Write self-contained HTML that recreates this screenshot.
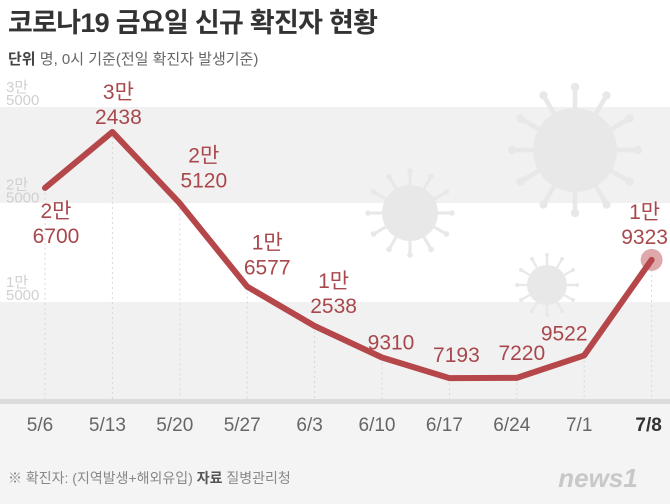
<!DOCTYPE html>
<html><head><meta charset="utf-8">
<style>
body{margin:0;width:670px;height:504px;overflow:hidden;background:#f4f4f4;font-family:"Liberation Sans","Noto Sans CJK KR",sans-serif}
.n{font-family:"Liberation Sans Narrow","Liberation Sans","Noto Sans CJK KR",sans-serif}
</style></head>
<body>
<svg id="chart" width="670" height="504" xmlns="http://www.w3.org/2000/svg" style="display:block">
<rect x="0" y="0" width="670" height="400" fill="#ffffff"/>
<rect x="0" y="107" width="670" height="96" fill="#f1f1f1"/>
<rect x="0" y="302" width="670" height="98" fill="#f1f1f1"/>
<g id="viruses" fill="#e8e8e8" stroke="#e8e8e8"></g>
<text x="8" y="32" font-size="27" font-weight="bold" fill="#333" textLength="370">코로나19 금요일 신규 확진자 현황</text>
<text x="8" y="64" font-size="15" fill="#666"><tspan font-weight="bold" fill="#444">단위</tspan> 명, 0시 기준(전일 확진자 발생기준)</text>
<g id="yticks" class="n" font-size="15" fill="#d0d0d0"></g>
<g id="grid"></g>
<rect x="0" y="399" width="670" height="5" fill="#dcdcdc"/>
<g id="plot"></g>
<g id="xlabels" class="n" font-size="19" fill="#666" text-anchor="middle"></g>
<text x="8" y="483" font-size="14" fill="#888">※ 확진자: (지역발생+해외유입)  <tspan font-weight="bold" fill="#555">자료</tspan> 질병관리청</text>
<text x="598" y="487" font-size="26" font-weight="bold" font-style="italic" fill="#c8c8c8" text-anchor="middle">news1</text>
</svg>
<script>
const categories=["5/6","5/13","5/20","5/27","6/3","6/10","6/17","6/24","7/1","7/8"];
const values=[26700,32438,25120,16577,12538,9310,7193,7220,9522,19323];
const yTickValues=[35000,25000,15000];
const yTickLabels=[["3만","5000"],["2만","5000"],["1만","5000"]];
const NS="http://www.w3.org/2000/svg";
function xS(i){return 45+i*67.4;}
function yS(v){return 107+(35000-v)*0.00975;}
function mk(tag,attrs,parent){const e=document.createElementNS(NS,tag);for(const k in attrs)e.setAttribute(k,attrs[k]);parent.appendChild(e);return e;}
const vg=document.getElementById('viruses');
[[575,150,42],[410,213,28],[547,285,20]].forEach(([cx,cy,r])=>{
  mk('circle',{cx:cx,cy:cy,r:r,stroke:'none'},vg);
  for(let a=0;a<12;a++){const t=a*Math.PI/6;
    mk('line',{x1:cx+Math.cos(t)*r,y1:cy+Math.sin(t)*r,x2:cx+Math.cos(t)*r*1.45,y2:cy+Math.sin(t)*r*1.45,'stroke-width':r/9},vg);
    mk('circle',{cx:cx+Math.cos(t)*r*1.5,cy:cy+Math.sin(t)*r*1.5,r:r/10,stroke:'none'},vg);}
});
const yg=document.getElementById('yticks');
yTickValues.forEach((v,i)=>{
  const t1=mk('text',{x:6,y:yS(v)-15},yg);t1.textContent=yTickLabels[i][0];
  
  
  const t2=mk('text',{x:6,y:yS(v)-2},yg);t2.textContent=yTickLabels[i][1];
  
  
});
const gg=document.getElementById('grid');
categories.forEach((c,i)=>{
  const l=mk('line',{x1:xS(i),x2:xS(i),y1:yS(values[i]),y2:399,stroke:'#d8d8d8','stroke-dasharray':'2,3'},gg);
  
  
});
const pg=document.getElementById('plot');
const last=values.length-1;
const hl=mk('circle',{cx:xS(last),cy:yS(values[last]),r:11,fill:'#d9999b',opacity:0.85},pg);


const path=mk('polyline',{points:values.map((v,i)=>xS(i)+','+yS(v)).join(' '),fill:'none',stroke:'#b5474b','stroke-width':6,'stroke-linejoin':'round','stroke-linecap':'round'},pg);


const offs=[[11,30],[6,-33],[24,-41],[20,-37],[19,-38],[9,-8],[7,-16],[5,-18],[-20,-15],[-7,-41]];
values.forEach((v,i)=>{
  const g=mk('g',{fill:'#a8484c','font-size':21,'text-anchor':'middle',class:'n'},pg);
  
  
  const x=xS(i)+offs[i][0],y=yS(v)+offs[i][1];
  if(v>=10000){
    mk('text',{x:x,y:y},g).textContent=Math.floor(v/10000)+'만';
    mk('text',{x:x,y:y+25},g).textContent=String(v%10000);
  } else {
    mk('text',{x:x,y:y},g).textContent=String(v);
  }
});
const xg=document.getElementById('xlabels');
categories.forEach((c,i)=>{
  const t=mk('text',{x:xS(i)-5+(i===last?2:0),y:431},xg);
  t.textContent=c;
  if(i===last){t.setAttribute('font-weight','bold');t.setAttribute('fill','#333');}
  
  
});
</script>
</body></html>
